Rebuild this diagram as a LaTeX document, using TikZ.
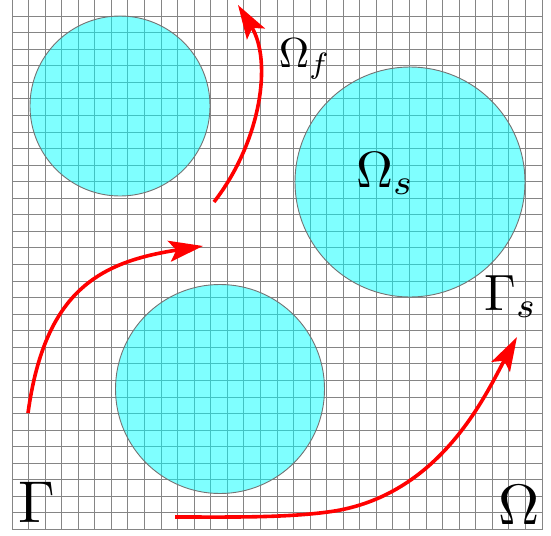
\documentclass[tikz,border=0pt]{standalone}
\usetikzlibrary{arrows.meta}
\definecolor{aqua}{RGB}{0,255,255}
\definecolor{flowred}{RGB}{255,0,0}
\tikzset{
  gridline/.style={draw=black!48, line width=0.9pt},
  blob/.style={fill=aqua, fill opacity=0.5, draw=black!55, line width=0.9pt},
  flow/.style={draw=flowred, line width=3.6pt, -{Stealth[length=34pt,width=21pt,inset=7pt]}},
  lbl/.style={inner sep=0pt, anchor=base west}
}
\begin{document}
\begin{tikzpicture}[x=1pt,y=-1pt]
\useasboundingbox (0,0) rectangle (551,535);
% grid
\foreach \i in {0,...,32}{
  \draw[gridline] ({12+\i*16.5625},-0.5) -- ({12+\i*16.5625},529.5);
  \draw[gridline] (12,{-0.5+\i*16.5625}) -- (542,{-0.5+\i*16.5625});
}
% solid inclusions
\draw[blob] (120,106) circle[radius=90];
\draw[blob] (410,182) circle[radius=115];
\draw[blob] (220,389) circle[radius=104.5];
% arrow end points
\coordinate (a1s) at (28,413);
\coordinate (a1e) at (203,246);
\coordinate (a2s) at (214,202);
\coordinate (a2e) at (238,5);
\coordinate (a3s) at (175,517);
\coordinate (a3m) at (330,511.7);
\coordinate (a3e) at (517,337);
\draw[flow] (a1s) .. controls (45,290) and (100,262) .. (a1e);
\draw[flow] (a2s) .. controls (262,140) and (272,60) .. (a2e);
\draw[flow] (a3s) .. controls (230,517) and (285,518) .. (a3m)
                 .. controls (440,496.3) and (485.8,394.2) .. (a3e);
% labels
\node[lbl, scale=4.2] (of) at (278,67) {$\Omega_f$};
\node[lbl, scale=5.1] (os) at (355,187) {$\Omega_s$};
\node[lbl, scale=5.1] (gs) at (483,310) {$\Gamma_s$};
\node[lbl, scale=5.9] (g) at (17,522) {$\Gamma$};
\node[lbl, scale=5.7] (o) at (497,524) {$\Omega$};
\end{tikzpicture}
\end{document}
